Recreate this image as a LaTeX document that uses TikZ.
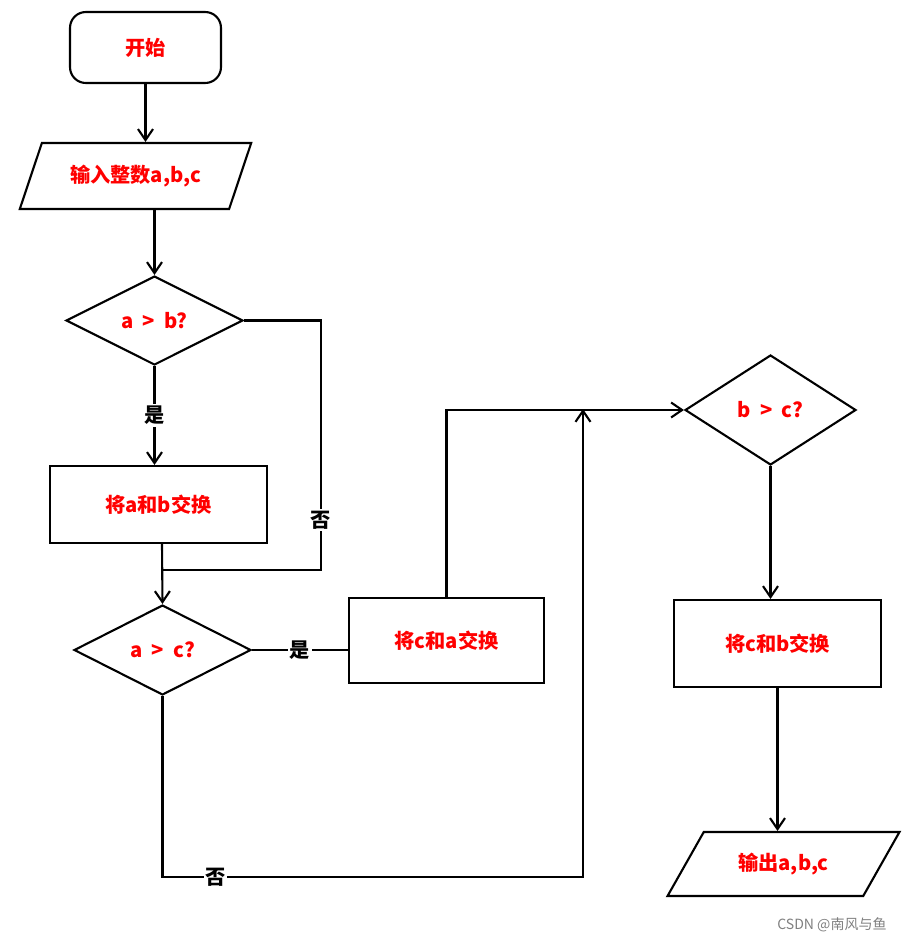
\documentclass[tikz,border=0pt]{standalone}
\usepackage{fontspec}
\setmainfont{Noto Sans CJK SC}
\usetikzlibrary{shapes.geometric,arrows.meta}

\tikzset{
  base/.style={draw,line width=1.2pt,inner sep=0pt,text=red,font=\fontsize{11.5}{13}\selectfont\bfseries},
  startbox/.style={base,rectangle,rounded corners=9pt},
  io/.style={base,trapezium,trapezium stretches=true},
  proc/.style={base,rectangle},
  decide/.style={base,diamond},
  flow/.style={line width=1.2pt,-{Straight Barb[length=2.2mm,width=3mm]}},
  link/.style={line width=1.2pt},
  tag/.style={fill=white,inner sep=1pt,font=\fontsize{11.5}{13}\selectfont\bfseries}
}

\begin{document}
\begin{tikzpicture}[x=0.02cm,y=-0.02cm]
  \useasboundingbox (0,0) rectangle (916,943);
  \path
  node[startbox,minimum width=3.02cm,minimum height=1.42cm] (start) at (145.5,47.5) {开始}
  node[io,trapezium left angle=55,trapezium right angle=125,minimum width=4.66cm,minimum height=1.32cm] (in) at (135.5,176) {输入整数a,b,c}
  node[decide,minimum width=3.54cm,minimum height=1.78cm] (ab) at (154.5,320.5) {a \ > \ b?}
  node[proc,minimum width=4.34cm,minimum height=1.54cm] (swapab) at (158.5,504.5) {将a和b交换}
  node[decide,minimum width=3.54cm,minimum height=1.8cm] (ac) at (162.5,650) {a \ > \ c?}
  node[proc,minimum width=3.9cm,minimum height=1.7cm] (swapca) at (446.5,640.5) {将c和a交换}
  node[decide,minimum width=3.42cm,minimum height=2.2cm] (bc) at (770.5,410) {b \ > \ c?}
  node[proc,minimum width=4.14cm,minimum height=1.74cm] (swapcb) at (777.5,643.5) {将c和b交换}
  node[io,trapezium left angle=47,trapezium right angle=133,minimum width=4.66cm,minimum height=1.28cm] (out) at (783.5,864) {输出a,b,c}
  ;
  \coordinate (joinab) at (162,570);
  \coordinate (noab) at (321,570);
  \coordinate (noac) at (583,877);
  \coordinate (joinbc) at (583,409);

  \draw[flow] (start) -- (start.south |- in.north);
  \draw[flow] (in.south -| ab.north) -- (ab.north);
  \draw[flow] (ab.south) -- node[tag] {是} (ab.south |- swapab.north);
  \draw[link] (ab.east) -| node[tag,pos=0.9] {否} (noab) -- (joinab);
  \draw[flow] (swapab.south -| joinab) -- (ac.north);
  \draw[link] (ac.east) -- node[tag] {是} (ac.east -| swapca.west);
  \draw[flow] (swapca.north) |- (bc.west);
  \draw[flow] (ac.south) |- node[tag,pos=0.563] {否} (noac) -- (joinbc);
  \draw[flow] (bc.south) -- (bc.south |- swapcb.north);
  \draw[flow] (swapcb.south) -- (swapcb.south |- out.north);

  \node[text=gray,font=\fontsize{8}{10}\selectfont] (mark) at (832,925) {CSDN @南风与鱼};
\end{tikzpicture}
\end{document}
